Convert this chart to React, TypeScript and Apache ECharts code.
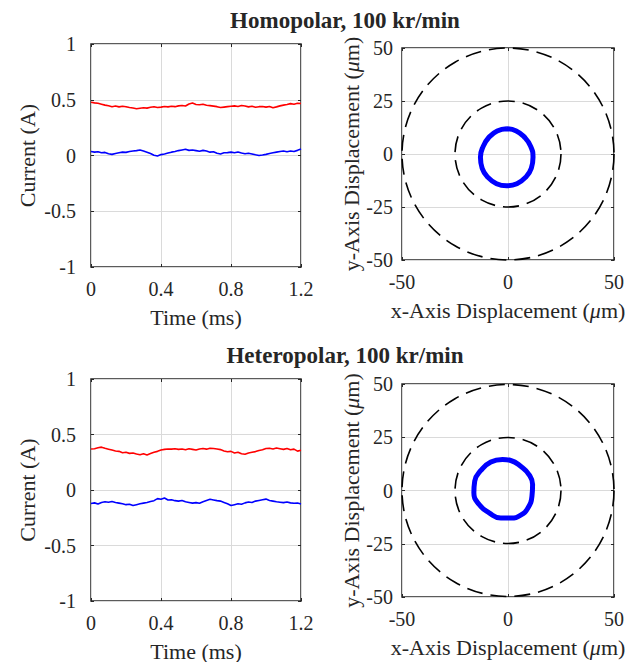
import React, { useEffect, useRef } from "react";
import * as echarts from "echarts";

// ---------- data ----------
const TIME_MS = [
  0.0, 0.02, 0.04, 0.06, 0.08, 0.1, 0.12, 0.14, 0.16, 0.18, 0.2, 0.22, 0.24, 0.26, 0.28, 0.3,
  0.32, 0.34, 0.36, 0.38, 0.4, 0.42, 0.44, 0.46, 0.48, 0.5, 0.52, 0.54, 0.56, 0.58, 0.6, 0.62,
  0.64, 0.66, 0.68, 0.7, 0.72, 0.74, 0.76, 0.78, 0.8, 0.82, 0.84, 0.86, 0.88, 0.9, 0.92, 0.94,
  0.96, 0.98, 1.0, 1.02, 1.04, 1.06, 1.08, 1.1, 1.12, 1.14, 1.16, 1.18, 1.2,
];

const HOMO_RED = [
  0.478, 0.472, 0.468, 0.46, 0.452, 0.446, 0.438, 0.444, 0.436, 0.442, 0.437, 0.43, 0.426, 0.42,
  0.424, 0.428, 0.425, 0.432, 0.438, 0.43, 0.434, 0.44, 0.436, 0.442, 0.438, 0.445, 0.448, 0.444,
  0.462, 0.47, 0.458, 0.455, 0.46, 0.45, 0.447, 0.443, 0.438, 0.43, 0.434, 0.438, 0.442, 0.445,
  0.44, 0.448, 0.444, 0.436, 0.442, 0.432, 0.438, 0.44, 0.434, 0.44, 0.428, 0.436, 0.445, 0.452,
  0.458, 0.465, 0.46, 0.468, 0.466,
];

const HOMO_BLUE = [
  0.036, 0.03, 0.034, 0.024, 0.028, 0.016, 0.01, 0.018, 0.024, 0.03, 0.028, 0.036, 0.04, 0.044,
  0.05, 0.04, 0.03, 0.018, 0.002, -0.004, 0.008, 0.014, 0.022, 0.03, 0.036, 0.044, 0.05, 0.056,
  0.046, 0.05, 0.044, 0.038, 0.046, 0.04, 0.03, 0.034, 0.02, 0.014, 0.024, 0.026, 0.03, 0.024,
  0.032, 0.022, 0.016, 0.02, 0.014, 0.006, 0.0, 0.004, 0.01, 0.018, 0.024, 0.03, 0.036, 0.04,
  0.034, 0.04, 0.036, 0.046, 0.058,
];

const HETERO_RED = [
  0.37, 0.372, 0.38, 0.386, 0.376, 0.368, 0.36, 0.352, 0.348, 0.336, 0.34, 0.33, 0.334, 0.324,
  0.318, 0.326, 0.316, 0.328, 0.34, 0.348, 0.36, 0.366, 0.37, 0.368, 0.372, 0.366, 0.37, 0.362,
  0.372, 0.366, 0.36, 0.37, 0.374, 0.368, 0.376, 0.374, 0.37, 0.364, 0.352, 0.344, 0.348, 0.334,
  0.34, 0.326, 0.322, 0.334, 0.34, 0.346, 0.356, 0.362, 0.374, 0.376, 0.37, 0.378, 0.372, 0.366,
  0.374, 0.362, 0.368, 0.35, 0.358,
];

const HETERO_BLUE = [
  -0.122, -0.116, -0.126, -0.112, -0.106, -0.11, -0.104, -0.112, -0.118, -0.124, -0.132, -0.128,
  -0.14, -0.132, -0.124, -0.118, -0.112, -0.104, -0.096, -0.078, -0.084, -0.072, -0.09, -0.088,
  -0.096, -0.1, -0.094, -0.106, -0.112, -0.118, -0.114, -0.12, -0.106, -0.094, -0.084, -0.09,
  -0.096, -0.1, -0.112, -0.124, -0.14, -0.132, -0.124, -0.128, -0.116, -0.108, -0.112, -0.1,
  -0.094, -0.088, -0.082, -0.094, -0.1, -0.106, -0.11, -0.114, -0.108, -0.116, -0.12, -0.118,
  -0.126,
];

const HOMO_ORBIT_X = [-0.6, 3.9, 7.7, 10.7, 11.8, 11.0, 8.3, 4.2, -0.6, -5.4, -9.5, -12.2, -13.0, -11.7, -8.9, -5.1, -0.6];
const HOMO_ORBIT_Y = [11.9, 10.9, 8.0, 3.6, -1.5, -6.7, -11.0, -14.0, -15.0, -14.0, -11.0, -6.7, -1.5, 3.6, 8.0, 10.9, 11.9];

const HETERO_ORBIT_X = [-2.6, 1.3, 6.0, 9.9, 11.6, 11.3, 9.4, 6.0, 1.3, -3.4, -8.9, -13.6, -16.1, -15.7, -12.8, -8.1, -2.6];
const HETERO_ORBIT_Y = [14.6, 14.1, 11.4, 7.5, 2.8, -2.7, -8.2, -11.6, -12.9, -12.9, -10.5, -6.6, -1.1, 4.4, 9.4, 13.4, 14.6];

const GUIDE_RADII = [25, 50];

const TITLES = ["Homopolar, 100 kr/min", "Heteropolar, 100 kr/min"];

// ---------- styling ----------
const FONT = "'Liberation Serif', 'Times New Roman', serif";
const TXT = "#262626";
const GRIDLINE = "#dadada";

const GRID_BOXES = [
  { left: 91, top: 44, width: 210, height: 223 },
  { left: 402, top: 48, width: 212, height: 212 },
  { left: 91, top: 379, width: 210, height: 222 },
  { left: 402, top: 384, width: 212, height: 213 },
];

const tick = { show: true, inside: true, length: 3, lineStyle: { color: TXT, width: 1 } };

function mainAxis(gi: number, dim: "x" | "y", min: number, max: number, interval: number, name: string, nameGap: number, margin: number) {
  return {
    type: "value",
    gridIndex: gi,
    position: dim === "x" ? "bottom" : "left",
    min,
    max,
    interval,
    name,
    nameLocation: "middle",
    nameGap,
    nameTextStyle: {
      fontFamily: FONT,
      fontSize: 22,
      color: TXT,
      rich: { i: { fontFamily: FONT, fontSize: 22, fontStyle: "italic", color: TXT } },
    },
    axisLine: { show: false, onZero: false },
    axisTick: tick,
    axisLabel: { fontFamily: FONT, fontSize: 20, color: TXT, margin },
    splitLine: { show: true, lineStyle: { color: GRIDLINE, width: 1 } },
  };
}

function mirrorAxis(gi: number, dim: "x" | "y", min: number, max: number, interval: number) {
  return {
    type: "value",
    gridIndex: gi,
    position: dim === "x" ? "top" : "right",
    min,
    max,
    interval,
    axisLine: { show: false, onZero: false },
    axisTick: tick,
    axisLabel: { show: false },
    splitLine: { show: false },
  };
}

function timeLine(ai: number, ys: number[], color: string) {
  return {
    type: "line",
    xAxisIndex: ai,
    yAxisIndex: ai,
    data: TIME_MS.map((t, i) => [t, ys[i]]),
    showSymbol: false,
    symbol: "none",
    lineStyle: { color, width: 1.6 },
    itemStyle: { color },
  };
}

function guideCircles(ai: number) {
  return {
    type: "custom",
    coordinateSystem: "cartesian2d",
    xAxisIndex: ai,
    yAxisIndex: ai,
    clip: false,
    data: GUIDE_RADII.map((r) => [0, 0, r]),
    renderItem: (_params: any, api: any) => {
      const c = api.coord([api.value(0), api.value(1)]);
      const r = api.size([api.value(2), 0])[0];
      return {
        type: "circle",
        shape: { cx: c[0], cy: c[1], r },
        style: { fill: "none", stroke: "#000", lineWidth: 1.6, lineDash: [16, 8] },
      };
    },
  };
}

function orbit(ai: number, xs: number[], ys: number[]) {
  return {
    type: "line",
    xAxisIndex: ai,
    yAxisIndex: ai,
    data: xs.map((x, i) => [x, ys[i]]),
    showSymbol: false,
    symbol: "none",
    smooth: 0.5,
    lineStyle: { color: "#0000ff", width: 5 },
    itemStyle: { color: "#0000ff" },
    z: 5,
  };
}

export default function App() {
  const ref = useRef<HTMLDivElement>(null);

  useEffect(() => {
    if (!ref.current) return;
    const chart = echarts.init(ref.current, undefined, { renderer: "svg" });

    const xAxis: any[] = [];
    const yAxis: any[] = [];
    [0, 2].forEach((gi) => {
      xAxis[gi * 2] = mainAxis(gi, "x", 0, 1.2, 0.4, "Time (ms)", 39, 12);
      xAxis[gi * 2 + 1] = mirrorAxis(gi, "x", 0, 1.2, 0.4);
      yAxis[gi * 2] = mainAxis(gi, "y", -1, 1, 0.5, "Current (A)", 53, 15);
      yAxis[gi * 2 + 1] = mirrorAxis(gi, "y", -1, 1, 0.5);
      const oi = gi + 1;
      xAxis[oi * 2] = mainAxis(oi, "x", -50, 50, 50, "x-Axis Displacement ({i|μ}m)", 39, 12);
      xAxis[oi * 2 + 1] = mirrorAxis(oi, "x", -50, 50, 50);
      yAxis[oi * 2] = mainAxis(oi, "y", -50, 50, 25, "y-Axis Displacement ({i|μ}m)", 40, 9);
      yAxis[oi * 2 + 1] = mirrorAxis(oi, "y", -50, 50, 25);
    });

    const option: any = {
      animation: false,
      backgroundColor: "#ffffff",
      grid: GRID_BOXES.map((b) => ({
        ...b,
        show: true,
        borderColor: TXT,
        borderWidth: 1.5,
        backgroundColor: "transparent",
        containLabel: false,
        outerBoundsMode: "none",
      })),
      xAxis,
      yAxis,
      graphic: TITLES.map((t, i) => ({
        type: "text",
        x: 345,
        y: i === 0 ? 20 : 355,
        style: {
          text: t,
          fontFamily: FONT,
          fontSize: 23,
          fontWeight: "bold",
          fill: TXT,
          align: "center",
          verticalAlign: "middle",
          textAlign: "center",
          textVerticalAlign: "middle",
        },
      })),
      series: [
        timeLine(0, HOMO_RED, "#ff0000"),
        timeLine(0, HOMO_BLUE, "#0000ff"),
        guideCircles(2),
        orbit(2, HOMO_ORBIT_X, HOMO_ORBIT_Y),
        timeLine(4, HETERO_RED, "#ff0000"),
        timeLine(4, HETERO_BLUE, "#0000ff"),
        guideCircles(6),
        orbit(6, HETERO_ORBIT_X, HETERO_ORBIT_Y),
      ],
    };

    chart.setOption(option);
    return () => chart.dispose();
  }, []);

  return (
    <div
      ref={ref}
      style={{ position: "absolute", left: 0, top: 0, width: 634, height: 662, background: "#fff" }}
    />
  );
}
